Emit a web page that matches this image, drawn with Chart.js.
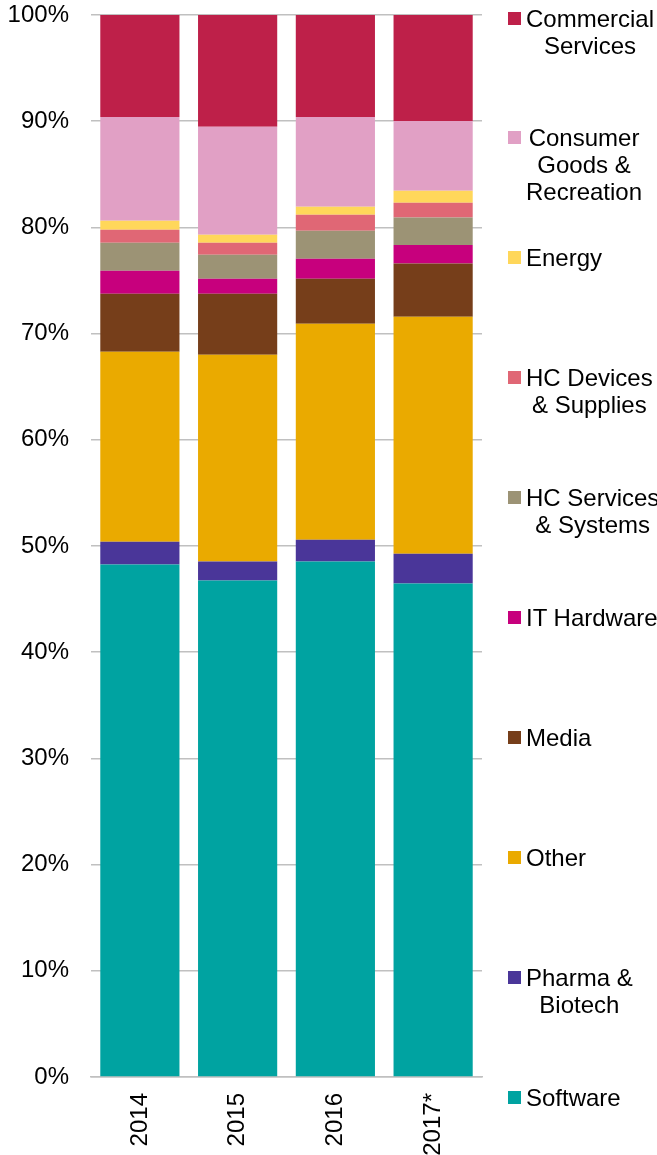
<!DOCTYPE html>
<html lang="en">
<head>
<meta charset="UTF-8">
<title>Share by sector</title>
<script src="https://cdn.jsdelivr.net/npm/chart.js"></script>
<style>
    body { margin: 0; background: #fff; font-family: "Liberation Sans", Arial, sans-serif; }
    .wrap { position: relative; width: 657px; height: 1155px; }
    #legend { position: absolute; left: 0; top: 0; }
    .item { position: absolute; left: 508px; }
    .item .box { position: absolute; left: 0; top: 7px; width: 13px; height: 13px; }
    .item .txt {
        position: absolute; left: 18px; top: 0;
        font-size: 24px; line-height: 27px; color: #000;
        white-space: pre; text-align: center;
    }
</style>
</head>
<body>
<div class="wrap">
    <canvas id="chart" width="657" height="1155"></canvas>
    <div id="legend"></div>
</div>
<script>
// categories
const years = ['2014', '2015', '2016', '2017*'];

// series, bottom of the stack first (% share)
const software   = [48.25, 46.74, 48.53, 46.46];
const pharma     = [2.16, 1.79, 2.07, 2.82];
const other      = [17.88, 19.47, 20.33, 22.30];
const media      = [5.46, 5.75, 4.23, 5.02];
const itHardware = [2.16, 1.41, 1.89, 1.75];
const hcServices = [2.64, 2.26, 2.63, 2.58];
const hcDevices  = [1.22, 1.13, 1.51, 1.38];
const energy     = [0.85, 0.75, 0.75, 1.13];
const consumer   = [9.78, 10.17, 8.46, 6.59];
const commercial = [9.60, 10.53, 9.60, 9.97];

const yTicks = [0, 10, 20, 30, 40, 50, 60, 70, 80, 90, 100];

const series = [
    { label: 'Software', data: software, color: '#00A3A1' },
    { label: 'Pharma &\nBiotech', data: pharma, color: '#4A3699' },
    { label: 'Other', data: other, color: '#EAAA00' },
    { label: 'Media', data: media, color: '#763E1A' },
    { label: 'IT Hardware', data: itHardware, color: '#C7007D' },
    { label: 'HC Services\n& Systems', data: hcServices, color: '#9C9375' },
    { label: 'HC Devices\n& Supplies', data: hcDevices, color: '#E06775' },
    { label: 'Energy', data: energy, color: '#FFD75A' },
    { label: 'Consumer\nGoods &\nRecreation', data: consumer, color: '#E1A0C5' },
    { label: 'Commercial\nServices', data: commercial, color: '#BE2049' }
];

Chart.defaults.font.family = '"Liberation Sans", Arial, sans-serif';
Chart.defaults.font.size = 24;
Chart.defaults.color = '#000';

const chart = new Chart(document.getElementById('chart'), {
    type: 'bar',
    data: {
        labels: years,
        datasets: series.map(s => ({
            label: s.label,
            data: s.data,
            backgroundColor: s.color,
            borderWidth: 0,
            categoryPercentage: 1,
            barPercentage: 0.81
        }))
    },
    options: {
        responsive: false,
        animation: false,
        layout: { padding: { top: 15, right: 175, bottom: 0, left: 0 } },
        plugins: { legend: { display: false }, tooltip: { enabled: false } },
        scales: {
            x: {
                stacked: true,
                grid: { display: false, drawTicks: false },
                border: { color: '#C0C0C0', width: 1.5 },
                ticks: { minRotation: 90, maxRotation: 90, padding: 16, autoSkip: false },
                afterFit: a => { a.height = 78; a.paddingLeft = 0; a.paddingRight = 0; }
            },
            y: {
                stacked: true,
                min: 0,
                max: 100,
                afterBuildTicks: a => { a.ticks = yTicks.map(v => ({ value: v })); },
                ticks: { callback: v => v + '%', padding: 22 },
                grid: { color: '#C0C0C0', lineWidth: 1.5, drawTicks: false },
                border: { display: false },
                afterFit: a => { a.width = 91; a.paddingTop = 0; a.paddingBottom = 0; }
            }
        }
    }
});

// legend on the right, top item = top of the stack
const legend = document.getElementById('legend');
chart.data.datasets.slice().reverse().forEach((ds, i) => {
    const item = document.createElement('div');
    item.className = 'item';
    item.style.top = (4.5 + i * 119.9) + 'px';
    item.innerHTML = '<span class="box" style="background:' + ds.backgroundColor + '"></span>' +
        '<span class="txt"></span>';
    item.querySelector('.txt').textContent = ds.label;
    legend.appendChild(item);
});
</script>
</body>
</html>
